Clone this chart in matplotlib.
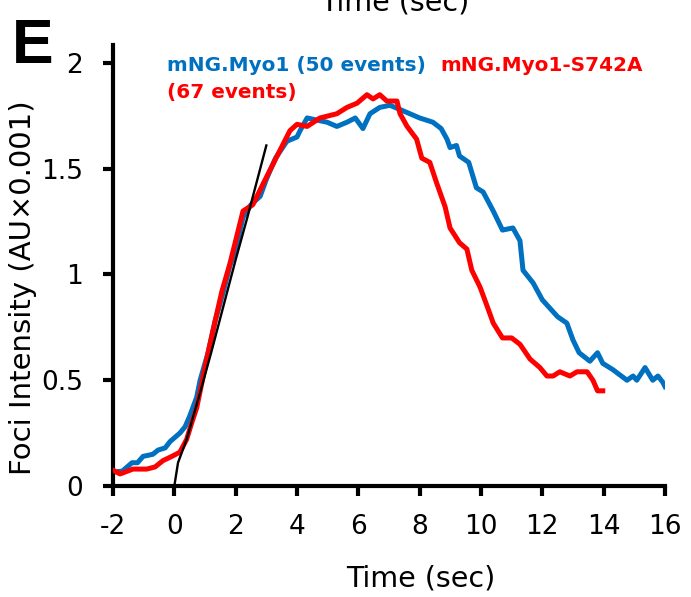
import matplotlib
matplotlib.use("Agg")
import matplotlib.pyplot as plt

# ---- data ----
wt_time = [-2.0, -1.7, -1.38, -1.2, -1.02, -0.7, -0.53, -0.3, -0.14, 0.18, 0.35, 0.5, 0.73, 0.84,
           1.1, 1.33, 1.6, 1.81, 2.0, 2.24, 2.5, 2.8, 3.0, 3.3, 3.67, 4.0, 4.1, 4.33, 4.65, 4.98,
           5.3, 5.63, 5.9, 6.15, 6.38, 6.7, 7.03, 7.36, 7.68, 8.0, 8.43, 8.7, 8.89, 8.99, 9.2, 9.3,
           9.6, 9.85, 10.07, 10.4, 10.7, 11.04, 11.27, 11.37, 11.7, 12.0, 12.5, 12.8, 13.0, 13.2,
           13.55, 13.8, 13.97, 14.3, 14.76, 14.96, 15.08, 15.35, 15.6, 15.77, 15.93, 16.0]
wt_vals = [0.066, 0.07, 0.11, 0.11, 0.14, 0.15, 0.17, 0.18, 0.21, 0.25, 0.28, 0.33, 0.42, 0.50,
           0.63, 0.78, 0.92, 1.04, 1.12, 1.27, 1.33, 1.37, 1.45, 1.55, 1.63, 1.65, 1.68, 1.74, 1.73, 1.72,
           1.70, 1.72, 1.74, 1.69, 1.76, 1.79, 1.80, 1.78, 1.76, 1.74, 1.72, 1.69, 1.64, 1.60, 1.61, 1.56,
           1.53, 1.41, 1.39, 1.30, 1.21, 1.22, 1.16, 1.02, 0.96, 0.88, 0.80, 0.77, 0.69, 0.63,
           0.59, 0.63, 0.58, 0.55, 0.50, 0.52, 0.50, 0.56, 0.50, 0.52, 0.49, 0.47]

mut_time = [-2.0, -1.77, -1.35, -0.9, -0.63, -0.37, -0.08, 0.18, 0.4, 0.57, 0.73, 0.9,
            1.1, 1.33, 1.55, 1.81, 2.0, 2.24, 2.56, 2.9, 3.35, 3.77, 4.0, 4.33, 4.75, 5.3,
            5.63, 5.96, 6.28, 6.48, 6.7, 6.93, 7.26, 7.36, 7.59, 7.9, 8.07, 8.33, 8.56, 8.83,
            8.99, 9.3, 9.54, 9.7, 9.97, 10.2, 10.4, 10.7, 11.0, 11.27, 11.6, 11.92, 12.15, 12.35,
            12.57, 12.9, 13.13, 13.46, 13.65, 13.8, 13.97]
mut_vals = [0.075, 0.057, 0.08, 0.08, 0.09, 0.12, 0.14, 0.16, 0.22, 0.30, 0.37, 0.49,
            0.63, 0.78, 0.92, 1.05, 1.16, 1.30, 1.33, 1.43, 1.56, 1.68, 1.71, 1.70, 1.74, 1.76,
            1.79, 1.81, 1.85, 1.83, 1.85, 1.82, 1.82, 1.76, 1.70, 1.64, 1.55, 1.53, 1.43, 1.32,
            1.22, 1.15, 1.12, 1.02, 0.94, 0.85, 0.77, 0.70, 0.70, 0.67, 0.60, 0.56, 0.52, 0.52,
            0.54, 0.52, 0.54, 0.54, 0.50, 0.45, 0.45]

fit_time = [0.0, 0.12, 0.4, 0.8, 1.2, 1.6, 2.0, 2.4, 2.8, 3.0]
fit_vals = [0.0, 0.11, 0.22, 0.42, 0.63, 0.85, 1.07, 1.28, 1.50, 1.61]

x_ticks = [-2, 0, 2, 4, 6, 8, 10, 12, 14, 16]
y_ticks = [0, 0.5, 1, 1.5, 2]
y_ticklabels = ["0", "0.5", "1", "1.5", "2"]

BLUE = "#0070C0"
RED = "#FF0000"

plt.rcParams['font.family'] = ['DejaVu Sans']

fig = plt.figure(figsize=(6.91, 5.97), dpi=100)
W, H = 691, 597
ax = fig.add_axes([113 / W, (H - 486) / H, (665 - 113) / W, (486 - 45) / H])

ax.plot(wt_time, wt_vals, color=BLUE, lw=3.6, solid_joinstyle='round', zorder=2)
ax.plot(mut_time, mut_vals, color=RED, lw=3.6, solid_joinstyle='round', zorder=3)
ax.plot(fit_time, fit_vals, color='black', lw=1.7, zorder=4)

ax.set_xlim(-2, 16)
ax.set_ylim(0, 2.085)
ax.set_xticks(x_ticks)
ax.set_xticklabels([str(t) for t in x_ticks])
ax.set_yticks(y_ticks)
ax.set_yticklabels(y_ticklabels)

for s in ['top', 'right']:
    ax.spines[s].set_visible(False)
for s in ['left', 'bottom']:
    ax.spines[s].set_linewidth(3.0)
ax.tick_params(axis='both', direction='out', length=7.5, width=3.0, labelsize=19)
ax.tick_params(axis='x', pad=13)
ax.tick_params(axis='y', pad=14)

# axis labels placed like the reference
fig.text(421 / W, 1 - 587 / H, "Time (sec)", fontsize=20.5, ha='center', va='baseline')
fig.text(23 / W, 1 - 288 / H, "Foci Intensity (AU×0.001)", fontsize=21, rotation=90,
         ha='center', va='center')

# legend-style labels
bold = dict(fontsize=14.4, fontweight='bold', ha='left', va='baseline')
fig.text(167 / W, 1 - 71 / H, "mNG.Myo1 (50 events)", color=BLUE, **bold)
fig.text(440 / W, 1 - 71 / H, "mNG.Myo1-S742A", color=RED, **bold)
fig.text(167 / W, 1 - 98 / H, "(67 events)", color=RED, **bold)

# panel letter
fig.text(12 / W, 1 - 63 / H, "E", fontsize=45, fontweight='bold',
         family=['Liberation Sans', 'DejaVu Sans'], ha='left', va='baseline')

# cut-off title from the panel above
fig.text(395 / W, 1 - 11 / H, "Time (sec)", fontsize=20.5, ha='center', va='baseline')

fig.savefig("out.png", dpi=100)
